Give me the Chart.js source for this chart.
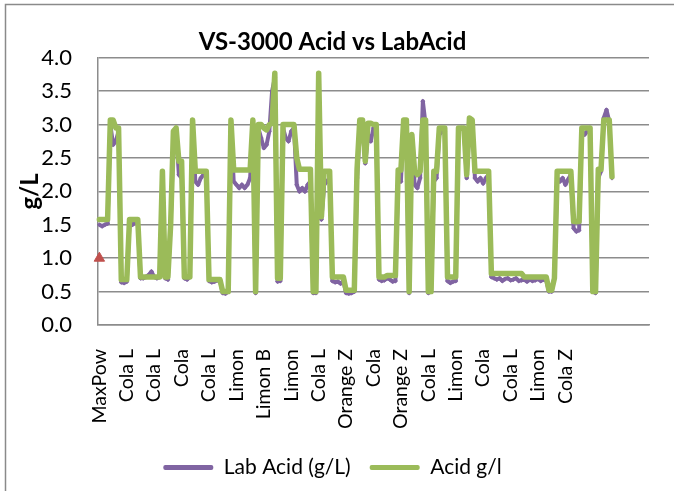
<!DOCTYPE html>
<html>
<head>
<meta charset="utf-8">
<script src="https://cdn.jsdelivr.net/npm/chart.js@4.4.1/dist/chart.umd.min.js"></script>
<style>
  body { margin: 0; background: #fff; }
  canvas { display: block; }
</style>
</head>
<body>
<canvas id="ctx" width="674" height="491"></canvas>
<script>
// category names shown on the axis (one every 10 rows)
const categories = ['MaxPow', 'Cola L', 'Cola L', 'Cola', 'Cola L', 'Limon', 'Limon B', 'Limon', 'Cola L',
  'Orange Z', 'Cola', 'Orange Z', 'Cola L', 'Limon', 'Cola', 'Cola L', 'Limon', 'Cola Z'];
const labelStep = 10;
const rowCount = 201;

const yTicks = [0, 0.5, 1, 1.5, 2, 2.5, 3, 3.5, 4];

// Lab Acid (g/L)
const labAcid = [
  1.5, 1.48, 1.5, 1.52, 3.0, 2.7, 2.75, 2.9, 0.64, 0.63,
  0.65, 1.52, 1.5, 1.53, 1.55, 0.7, 0.7, 0.72, 0.75, 0.8,
  0.72, 0.7, 0.72, 2.2, 0.7, 0.68, 1.5, 2.75, 2.9, 2.25,
  2.2, 0.7, 0.68, 0.72, 3.0, 2.15, 2.1, 2.2, 2.25, 2.28,
  0.66, 0.64, 0.65, 0.67, 0.66, 0.48, 0.47, 0.5, 3.0, 2.15,
  2.1, 2.05, 2.1, 2.05, 2.1, 2.2, 3.0, 0.48, 2.95, 2.8,
  2.65, 2.7, 2.9, 3.5, 3.7, 0.65, 0.66, 2.95, 2.8, 2.75,
  2.9, 2.95, 2.1, 2.0, 2.05, 2.0, 2.1, 2.15, 0.48, 0.48,
  3.6, 1.58, 2.1, 2.15, 2.2, 0.66, 0.64, 0.65, 0.62, 0.66,
  0.48, 0.47, 0.48, 0.5, 2.2, 2.9, 2.95, 2.42, 2.85, 2.75,
  2.95, 2.95, 0.68, 0.66, 0.67, 0.7, 0.68, 0.65, 0.66, 2.2,
  2.15, 3.0, 2.9, 0.48, 2.8, 2.1, 2.05, 2.2, 3.35, 3.0,
  0.48, 0.5, 2.15, 2.2, 2.85, 2.9, 2.9, 0.66, 0.63, 0.65,
  0.66, 2.9, 2.95, 2.95, 2.2, 3.0, 3.05, 2.2, 2.15, 2.2,
  2.12, 2.2, 2.25, 0.72, 0.7, 0.68, 0.7, 0.66, 0.69, 0.7,
  0.67, 0.68, 0.7, 0.66, 0.67, 0.68, 0.65, 0.68, 0.66, 0.67,
  0.69, 0.66, 0.68, 0.67, 0.5, 0.5, 0.72, 2.2, 2.15, 2.2,
  2.1, 2.18, 2.25, 1.45, 1.4, 1.42, 2.9, 2.85, 2.9, 2.95,
  0.5, 0.48, 2.2, 2.3, 3.1, 3.22, 3.05, 2.2
];

// Acid g/l (VS-3000)
const acid = [
  1.58, 1.58, 1.58, 1.58, 3.07, 3.07, 2.95, 2.95, 0.68, 0.68,
  0.68, 1.58, 1.58, 1.58, 1.58, 0.72, 0.72, 0.72, 0.72, 0.72,
  0.72, 0.72, 0.72, 2.3, 0.72, 0.72, 1.5, 2.9, 2.95, 2.45,
  2.45, 0.72, 0.72, 0.72, 3.07, 2.3, 2.3, 2.3, 2.3, 2.3,
  0.68, 0.68, 0.68, 0.68, 0.68, 0.5, 0.5, 0.5, 3.07, 2.32,
  2.32, 2.32, 2.32, 2.32, 2.32, 2.32, 3.07, 0.5, 3.0, 3.0,
  2.95, 2.92, 3.0, 3.02, 3.77, 0.7, 0.7, 3.0, 3.0, 3.0,
  3.0, 3.0, 2.5, 2.33, 2.33, 2.33, 2.33, 2.33, 0.5, 0.5,
  3.77, 1.62, 2.3, 2.3, 2.3, 0.72, 0.72, 0.72, 0.72, 0.72,
  0.52, 0.52, 0.52, 0.52, 2.33, 3.07, 3.07, 2.45, 3.02, 3.02,
  3.0, 3.0, 0.72, 0.72, 0.72, 0.74, 0.74, 0.74, 0.74, 2.32,
  2.32, 3.07, 3.07, 0.5, 2.85, 2.3, 2.25, 2.3, 3.07, 3.07,
  0.5, 0.5, 2.3, 2.3, 2.95, 2.95, 2.95, 0.72, 0.72, 0.72,
  0.72, 2.95, 2.95, 2.95, 2.25, 3.1, 3.07, 2.3, 2.3, 2.3,
  2.3, 2.3, 2.3, 0.77, 0.77, 0.77, 0.77, 0.77, 0.77, 0.77,
  0.77, 0.77, 0.77, 0.77, 0.77, 0.72, 0.72, 0.72, 0.72, 0.72,
  0.72, 0.72, 0.72, 0.72, 0.52, 0.52, 0.7, 2.3, 2.3, 2.3,
  2.3, 2.3, 2.3, 1.55, 1.55, 1.55, 2.95, 2.95, 2.95, 2.95,
  0.5, 0.5, 2.33, 2.33, 3.07, 3.07, 3.07, 2.22
];

// single red marker on the first row
const marker = [1.0];

const labels = Array.from({length: rowCount}, (_, i) =>
  i % labelStep === 0 ? (categories[i / labelStep] || '') : '');

Chart.defaults.font.family = 'Lato';
Chart.defaults.color = '#000';

// white background + outer frame (top and left edges are visible)
const frame = {
  id: 'frame',
  beforeDraw(chart) {
    const c = chart.ctx;
    c.save();
    c.fillStyle = '#fff';
    c.fillRect(0, 0, chart.width, chart.height);
    c.strokeStyle = '#8a8a8a';
    c.lineWidth = 1.5;
    c.beginPath();
    c.moveTo(5.5, chart.height);
    c.lineTo(5.5, 4.5);
    c.lineTo(chart.width, 4.5);
    c.stroke();
    c.restore();
  }
};

const gridColor = '#8c8c8c';

new Chart(document.getElementById('ctx'), {
  type: 'line',
  data: {
    labels: labels,
    datasets: [{
      label: 'Lab Acid (g/L)',
      data: labAcid,
      borderColor: '#8064A2',
      backgroundColor: '#8064A2',
      borderWidth: 4,
      borderJoinStyle: 'round',
      pointStyle: 'rectRot',
      pointRadius: 2.5,
      pointBorderWidth: 0,
      tension: 0,
      order: 2
    }, {
      label: 'Acid g/l',
      data: acid,
      borderColor: '#9BBB59',
      backgroundColor: '#9BBB59',
      borderWidth: 5.5,
      borderJoinStyle: 'round',
      borderCapStyle: 'round',
      pointRadius: 0,
      tension: 0,
      order: 1
    }, {
      label: 'marker',
      data: marker,
      showLine: false,
      pointStyle: 'triangle',
      pointRadius: 6,
      borderColor: '#C0504D',
      backgroundColor: '#C0504D',
      order: 0
    }]
  },
  options: {
    responsive: false,
    animation: false,
    layout: {
      padding: {left: 16, right: 25, top: 0, bottom: 3}
    },
    plugins: {
      title: {
        display: true,
        text: 'VS-3000 Acid vs LabAcid',
        font: {size: 24, weight: 'bold'},
        padding: {top: 28, bottom: 1}
      },
      legend: {
        position: 'bottom',
        labels: {
          font: {size: 21},
          boxWidth: 50,
          boxHeight: 5,
          padding: 19,
          filter: item => item.text !== 'marker',
          sort: (a, b) => a.datasetIndex - b.datasetIndex,
          generateLabels: chart => Chart.defaults.plugins.legend.labels.generateLabels(chart)
            .map(item => Object.assign(item, {lineWidth: 0, borderRadius: 2}))
        }
      },
      tooltip: {enabled: false}
    },
    scales: {
      x: {
        offset: true,
        // tick marks hidden, their length only pushes the labels down
        grid: {display: false, drawTicks: true, tickLength: 24},
        border: {display: true, color: gridColor, width: 1.5},
        ticks: {
          autoSkip: false,
          minRotation: 90,
          maxRotation: 90,
          padding: 0,
          font: {size: 19.5}
        },
        afterFit: s => { s.height = 113; }
      },
      y: {
        min: 0,
        max: 4,
        afterBuildTicks: s => { s.ticks = yTicks.map(v => ({value: v})); },
        grid: {color: gridColor, lineWidth: 1.5, drawTicks: false},
        border: {display: true, color: gridColor, width: 1.5},
        ticks: {
          padding: 26,
          font: {size: 22},
          callback: v => v.toFixed(1)
        },
        title: {
          display: true,
          text: 'g/L',
          font: {size: 24, weight: 'bold'},
          padding: {top: 0, bottom: 0}
        },
        afterFit: s => { s.width = 82; }
      }
    }
  },
  plugins: [frame]
});
</script>
</body>
</html>
